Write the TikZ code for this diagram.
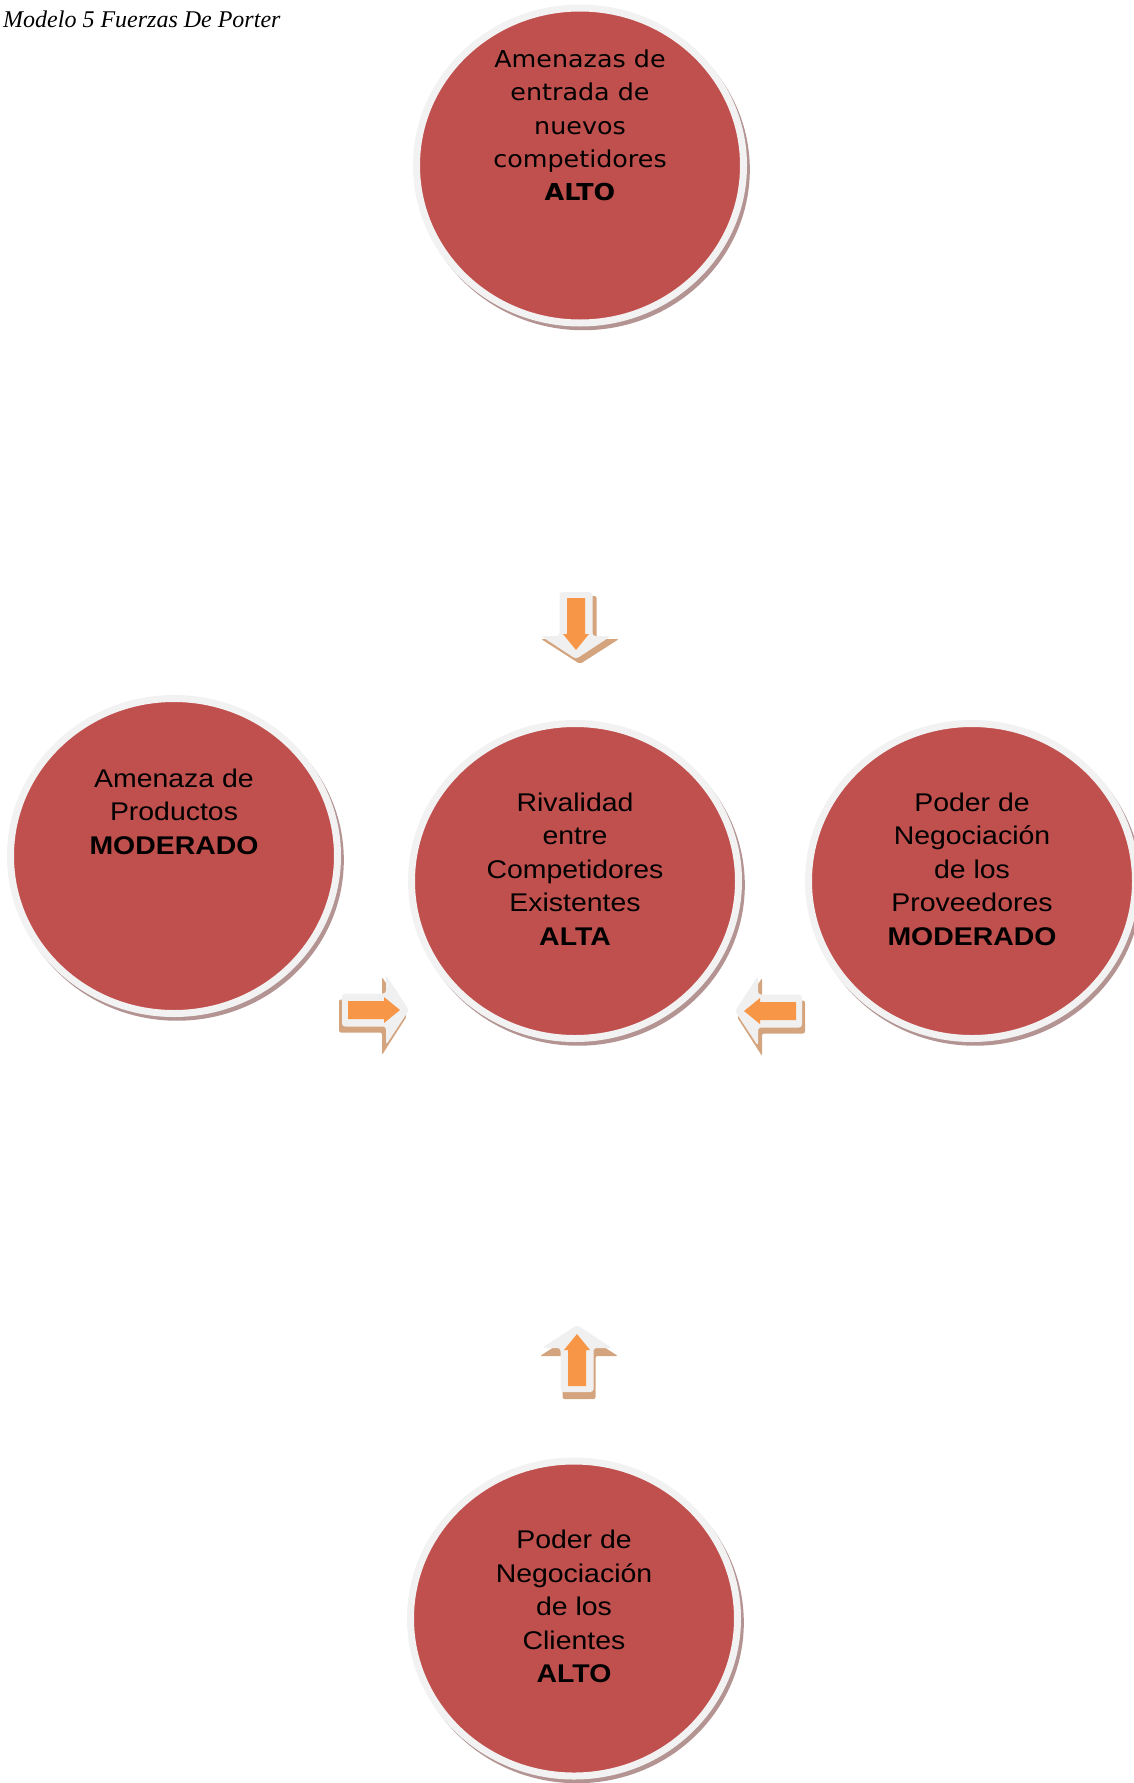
\documentclass[tikz,border=0pt]{standalone}
\usepackage{fontspec}
\setmainfont{Liberation Serif}
\newfontfamily\forcefont[FakeStretch=1.11]{Liberation Sans}
\newfontfamily\entryfont[FakeStretch=1.09]{DejaVu Sans}
\usepackage{tikz}
\usetikzlibrary{shapes.geometric,shadows}
\definecolor{forceRed}{HTML}{C0504D}
\definecolor{ringGray}{HTML}{F2F2F2}
\definecolor{shadowRose}{HTML}{B49393}
\definecolor{arrowOrange}{HTML}{F79646}
\definecolor{arrowGray}{HTML}{F0F0F0}
\definecolor{arrowTan}{HTML}{D4A47E}

\begin{document}
\begin{tikzpicture}[
    x=1pt, y=-1pt,
    force/.style={ellipse, fill=forceRed, draw=ringGray, line width=7pt,
                  minimum width=327pt, minimum height=315pt, inner sep=0pt,
                  drop shadow={shadow xshift=3pt, shadow yshift=-4pt, shadow scale=1.02,
                               fill=shadowRose, opacity=1}},
    forcetext/.style={align=center, inner sep=0pt, text=black,
                      font=\forcefont\fontsize{25.6}{33.5}\selectfont},
    entrytext/.style={forcetext, font=\entryfont\fontsize{23.3}{33.3}\selectfont},
    pics/arrowshade/.style={code={
        \fill[arrowTan, rounded corners=2pt] (-34,-16.5) -- (9,-16.5) -- (9,-39) -- (34,0)
            -- (9,39) -- (9,16.5) -- (-34,16.5) -- cycle;}},
    pics/forcearrow/.style={code={
        \fill[arrowGray, rounded corners=3pt] (-34,-16.5) -- (10,-16.5) -- (10,-35) -- (33,0)
            -- (10,35) -- (10,16.5) -- (-34,16.5) -- cycle;
        \fill[arrowOrange] (-28,-9) -- (8,-9) -- (8,-13) -- (24,0)
            -- (8,13) -- (8,9) -- (-28,9) -- cycle;}},
]
    \useasboundingbox (0,0) rectangle (1133,1783);

    \node[anchor=base west, inner sep=0pt, font=\itshape\fontsize{24}{28}\selectfont]
        (title) at (3,27) {Modelo 5 Fuerzas De Porter};

    % las cinco fuerzas
    \node[force] (entrada) at (580,165.5) {};
    \node[force] (sustitutos) at (174,856) {};
    \node[force] (rival) at (575,881) {};
    \node[force] (proveedores) at (972,881) {};
    \node[force] (clientes) at (574,1618.5) {};

    \node[entrytext, yshift=40pt] (entradaTxt) at (entrada)
        {Amenazas de\\entrada de\\nuevos\\competidores\\\textbf{ALTO}};
    \node[forcetext, yshift=44.5pt] (sustitutosTxt) at (sustitutos)
        {Amenaza de\\Productos\\\textbf{MODERADO}};
    \node[forcetext, yshift=12pt] (rivalTxt) at (rival)
        {Rivalidad\\entre\\Competidores\\Existentes\\\textbf{ALTA}};
    \node[forcetext, yshift=12pt] (proveedoresTxt) at (proveedores)
        {Poder de\\Negociación\\de los\\Proveedores\\\textbf{MODERADO}};
    \node[forcetext, yshift=12pt] (clientesTxt) at (clientes)
        {Poder de\\Negociación\\de los\\Clientes\\\textbf{ALTO}};

    % flechas hacia el centro
    \pic[rotate=-90] at (580,630) {arrowshade};
    \pic[rotate=-90] at (576,626) {forcearrow};
    \pic[rotate=0] at (373,1016) {arrowshade};
    \pic[rotate=0] at (376,1010) {forcearrow};
    \pic[rotate=180] at (771,1017) {arrowshade};
    \pic[rotate=180] at (768,1011) {forcearrow};
    \pic[rotate=90] at (579,1365) {arrowshade};
    \pic[rotate=90] at (577,1358) {forcearrow};
\end{tikzpicture}
\end{document}
